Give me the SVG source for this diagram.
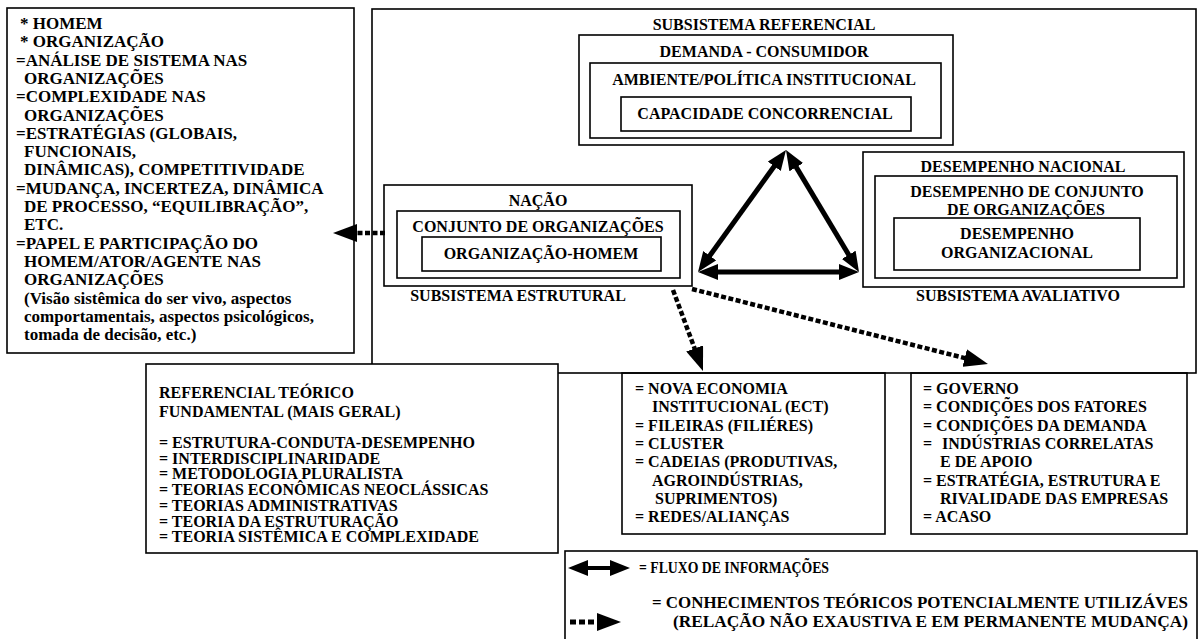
<svg xmlns="http://www.w3.org/2000/svg" width="1199" height="639" viewBox="0 0 1199 639">
<style>
.t{font-family:"Liberation Serif","Times New Roman",serif;font-weight:bold;font-size:16px;fill:#000}
.l{font-size:17px}
.c{text-anchor:middle}
.e{text-anchor:end}
.b{fill:none;stroke:#000;stroke-width:1.6}
.w{fill:#fff;stroke:#000;stroke-width:1.6}
.sol{fill:none;stroke:#000;stroke-width:5}
.das{fill:none;stroke:#000;stroke-width:4.5;stroke-dasharray:5 2.5}
</style>
<defs>
<marker id="ah" viewBox="0 0 20 16" refX="12" refY="8" markerWidth="20" markerHeight="16" markerUnits="userSpaceOnUse" orient="auto-start-reverse"><path d="M0,0 L20,8 L0,16 z" fill="#000"/></marker>
<marker id="dh" viewBox="0 0 24 18" refX="16" refY="9" markerWidth="24" markerHeight="18" markerUnits="userSpaceOnUse" orient="auto"><path d="M0,0 L24,9 L0,18 z" fill="#000"/></marker>
</defs>
<rect width="1199" height="639" fill="#fff"/>

<g id="left-box">
<rect class="b" x="7" y="8" width="347" height="345"/>
<text class="t l" x="20" y="29">* HOMEM</text>
<text class="t l" x="20" y="47.3">* ORGANIZAÇÃO</text>
<text class="t l" x="16" y="65.6">=ANÁLISE DE SISTEMA NAS</text>
<text class="t l" x="24" y="83.9">ORGANIZAÇÕES</text>
<text class="t l" x="16" y="102.2">=COMPLEXIDADE NAS</text>
<text class="t l" x="24" y="120.5">ORGANIZAÇÕES</text>
<text class="t l" x="16" y="138.8">=ESTRATÉGIAS (GLOBAIS,</text>
<text class="t l" x="24" y="157.1">FUNCIONAIS,</text>
<text class="t l" x="24" y="175.4">DINÂMICAS), COMPETITIVIDADE</text>
<text class="t l" x="16" y="193.7">=MUDANÇA, INCERTEZA, DINÂMICA</text>
<text class="t l" x="24" y="212">DE PROCESSO, “EQUILIBRAÇÃO”,</text>
<text class="t l" x="24" y="230.3">ETC.</text>
<text class="t l" x="16" y="248.6">=PAPEL E PARTICIPAÇÃO DO</text>
<text class="t l" x="24" y="266.9">HOMEM/ATOR/AGENTE NAS</text>
<text class="t l" x="24" y="285.2">ORGANIZAÇÕES</text>
<text class="t l" x="24" y="303.5">(Visão sistêmica do ser vivo, aspectos</text>
<text class="t l" x="24" y="321.8">comportamentais, aspectos psicológicos,</text>
<text class="t l" x="24" y="340.1">tomada de decisão, etc.)</text>
</g>

<g id="system-box">
<rect class="b" x="372" y="9" width="824" height="364"/>
</g>

<g id="subsistema-referencial">
<text class="t c" x="764" y="30">SUBSISTEMA REFERENCIAL</text>
<rect class="b" x="579" y="35" width="374" height="110"/>
<text class="t c" x="764" y="57">DEMANDA - CONSUMIDOR</text>
<rect class="b" x="590" y="63" width="351" height="75"/>
<text class="t c" x="764" y="85">AMBIENTE/POLÍTICA INSTITUCIONAL</text>
<rect class="b" x="621" y="97" width="290" height="34"/>
<text class="t c" x="765" y="119">CAPACIDADE CONCORRENCIAL</text>
</g>

<g id="subsistema-estrutural">
<rect class="b" x="384" y="185" width="308" height="101"/>
<text class="t c" x="538" y="206">NAÇÃO</text>
<rect class="b" x="397" y="211" width="283" height="67"/>
<text class="t c" x="538" y="232">CONJUNTO DE ORGANIZAÇÕES</text>
<rect class="b" x="422" y="237" width="239" height="34"/>
<text class="t c" x="541" y="259">ORGANIZAÇÃO-HOMEM</text>
<text class="t c" x="518" y="301">SUBSISTEMA ESTRUTURAL</text>
</g>

<g id="subsistema-avaliativo">
<rect class="b" x="863" y="152" width="321" height="135"/>
<text class="t c" x="1023" y="172">DESEMPENHO NACIONAL</text>
<rect class="b" x="875" y="176" width="302" height="102"/>
<text class="t c" x="1027" y="197">DESEMPENHO DE CONJUNTO</text>
<text class="t c" x="1026" y="215">DE ORGANIZAÇÕES</text>
<rect class="b" x="894" y="218" width="246" height="52"/>
<text class="t c" x="1017" y="239">DESEMPENHO</text>
<text class="t c" x="1017" y="258">ORGANIZACIONAL</text>
<text class="t c" x="1018" y="301">SUBSISTEMA AVALIATIVO</text>
</g>

<g id="referencial-teorico">
<rect class="w" x="146" y="364" width="412" height="189"/>
<text class="t" x="159" y="398">REFERENCIAL TEÓRICO</text>
<text class="t" x="159" y="417">FUNDAMENTAL (MAIS GERAL)</text>
<text class="t" x="159" y="448">= ESTRUTURA-CONDUTA-DESEMPENHO</text>
<text class="t" x="159" y="463.7">= INTERDISCIPLINARIDADE</text>
<text class="t" x="159" y="479.4">= METODOLOGIA PLURALISTA</text>
<text class="t" x="159" y="495.1">= TEORIAS ECONÔMICAS NEOCLÁSSICAS</text>
<text class="t" x="159" y="510.8">= TEORIAS ADMINISTRATIVAS</text>
<text class="t" x="159" y="526.5">= TEORIA DA ESTRUTURAÇÃO</text>
<text class="t" x="159" y="542.2">= TEORIA SISTÊMICA E COMPLEXIDADE</text>
</g>

<g id="nova-economia">
<rect class="b" x="622" y="373" width="263" height="161"/>
<text class="t" x="635" y="394">= NOVA ECONOMIA</text>
<text class="t" x="652" y="412.3">INSTITUCIONAL (ECT)</text>
<text class="t" x="635" y="430.6">= FILEIRAS (FILIÉRES)</text>
<text class="t" x="635" y="448.9">= CLUSTER</text>
<text class="t" x="635" y="467.2">= CADEIAS (PRODUTIVAS,</text>
<text class="t" x="652" y="485.5">AGROINDÚSTRIAS,</text>
<text class="t" x="655" y="503.8">SUPRIMENTOS)</text>
<text class="t" x="635" y="522.1">= REDES/ALIANÇAS</text>
</g>

<g id="governo">
<rect class="b" x="911" y="373" width="276" height="161"/>
<text class="t" x="923" y="394">= GOVERNO</text>
<text class="t" x="923" y="412.3">= CONDIÇÕES DOS FATORES</text>
<text class="t" x="923" y="430.6">= CONDIÇÕES DA DEMANDA</text>
<text class="t" y="448.9"><tspan x="923">=</tspan><tspan x="942">INDÚSTRIAS CORRELATAS</tspan></text>
<text class="t" x="940" y="467.2">E DE APOIO</text>
<text class="t" x="923" y="485.5">= ESTRATÉGIA, ESTRUTURA E</text>
<text class="t" x="940" y="503.8">RIVALIDADE DAS EMPRESAS</text>
<text class="t" x="923" y="522.1">= ACASO</text>
</g>

<g id="legend">
<rect class="b" x="565" y="551" width="632" height="100"/>
<line x1="576" y1="568" x2="622" y2="568" stroke="#000" stroke-width="4" marker-start="url(#ah)" marker-end="url(#ah)"/>
<text class="t" x="639" y="573" textLength="190" lengthAdjust="spacingAndGlyphs">= FLUXO DE INFORMAÇÕES</text>
<line x1="570" y1="622" x2="613" y2="622" stroke="#000" stroke-width="5" stroke-dasharray="6 3" marker-end="url(#dh)"/>
<text class="t" x="652" y="608" textLength="536" lengthAdjust="spacingAndGlyphs">= CONHECIMENTOS TEÓRICOS POTENCIALMENTE UTILIZÁVES</text>
<text class="t" x="673" y="627" textLength="515" lengthAdjust="spacingAndGlyphs">(RELAÇÃO NÃO EXAUSTIVA E EM PERMANENTE MUDANÇA)</text>
</g>

<g id="connectors">
<line class="sol" x1="781.3" y1="156.5" x2="702.7" y2="265.5" marker-start="url(#ah)" marker-end="url(#ah)"/>
<line class="sol" x1="790.1" y1="156.9" x2="854.9" y2="265.1" marker-start="url(#ah)" marker-end="url(#ah)"/>
<line class="sol" x1="706" y1="272" x2="851" y2="272" marker-start="url(#ah)" marker-end="url(#ah)"/>
<line class="das" x1="385" y1="233" x2="341" y2="233" marker-end="url(#dh)"/>
<line class="das" x1="673" y1="290" x2="700.2" y2="363.5" marker-end="url(#dh)"/>
<line class="das" x1="692" y1="289" x2="980.2" y2="362" marker-end="url(#dh)"/>
</g>
</svg>
